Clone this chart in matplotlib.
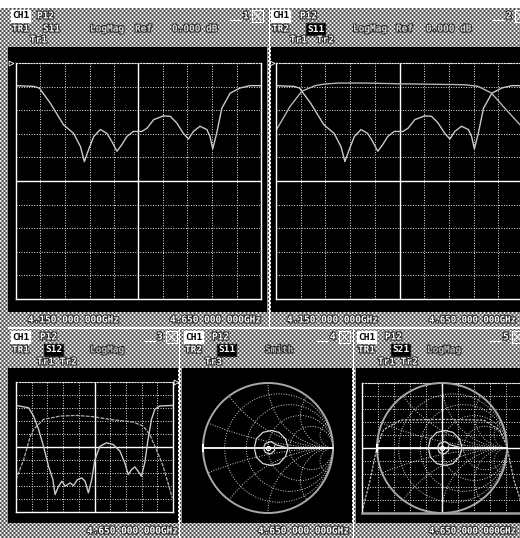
import numpy as np
import matplotlib
matplotlib.use("Agg")
import matplotlib.pyplot as plt
from matplotlib.patches import Circle, Rectangle
import matplotlib.patheffects as pe

W, H = 520, 538

# ---- trace data -------------------------------------------------------
# S11 return loss (GHz, dB), 5 dB/div
s11_ghz = [4.150, 4.186, 4.1975, 4.220, 4.247, 4.2675, 4.2815, 4.2895, 4.298,
           4.3085, 4.322, 4.3355, 4.3455, 4.356, 4.366, 4.376, 4.3895, 4.407,
           4.4175, 4.431, 4.451, 4.465, 4.478, 4.4915, 4.502, 4.512, 4.5255,
           4.5395, 4.546, 4.5515, 4.5595, 4.570, 4.587, 4.607, 4.6275, 4.650]
s11_db = [0.2, 0.05, -0.3, -3.5, -8.1, -9.9, -12.7, -15.9, -13.4, -10.6, -9.1,
          -9.9, -11.6, -13.7, -12.3, -10.6, -9.5, -9.5, -8.8, -7.0, -6.2, -6.3,
          -7.7, -9.9, -11.1, -9.5, -8.4, -9.1, -10.6, -13.2, -9.9, -4.6, -1.4,
          -0.3, 0.2, 0.2]

# S21 transmission (GHz, dB), 5 dB/div
s21_ghz = [4.150, 4.1785, 4.202, 4.229, 4.249, 4.276, 4.330, 4.3975, 4.4645,
           4.532, 4.559, 4.586, 4.613, 4.6435]
s21_db = [-9.3, -4.2, -1.0, 0.2, 0.55, 0.75, 0.75, 0.6, 0.5, 0.4, 0.05, -1.35,
          -4.55, -8.05]

# window 3: S11 / S21 at 10 dB/div
w3_s11_ghz = [4.150, 4.190, 4.206, 4.222, 4.2375, 4.2535, 4.2675, 4.2745,
              4.2855, 4.296, 4.3065, 4.3225, 4.333, 4.3455, 4.3595, 4.370,
              4.3805, 4.391, 4.4015, 4.4175, 4.4385, 4.4595, 4.481, 4.4965,
              4.5075, 4.518, 4.5285, 4.539, 4.5495, 4.560, 4.5705, 4.5815,
              4.592, 4.6075, 4.650]
w3_s11_db = [2.0, 0.2, -6.2, -16.5, -29.4, -44.8, -55.1, -66.6, -60.2, -56.3,
             -60.2, -57.6, -59.7, -55.1, -53.8, -56.3, -65.3, -55.1, -39.6,
             -29.4, -26.8, -28.1, -33.2, -42.2, -51.2, -47.4, -45.3, -48.6,
             -52.5, -42.2, -24.2, -8.8, -1.1, 1.5, 2.0]
w3_s21_ghz = [4.150, 4.1745, 4.1955, 4.206, 4.2375, 4.2905, 4.3435, 4.3965,
              4.449, 4.523, 4.555, 4.576, 4.597, 4.6185, 4.634, 4.648]
w3_s21_db = [-55.1, -39.6, -21.6, -16.5, -8.8, -6.2, -5.7, -6.7, -8.8, -10.8,
             -13.9, -20.4, -31.9, -44.8, -57.6, -69.2]

# window 5: S21 at 10 dB/div
w5_s21_ghz = [4.150, 4.175, 4.197, 4.2175, 4.270, 4.400, 4.530, 4.580, 4.603,
              4.625, 4.645]
w5_s21_db = [-79, -55, -29, -16, -8.5, -8, -8.5, -16, -29, -55, -70]

# S11 on the Smith chart (real, imag of reflection coefficient)
smith_re = [0.31, 0.27, 0.17, 0.05, -0.08, -0.18, -0.21, -0.18, -0.08, 0.05,
            0.17, 0.27, 0.31, 0.12, 0.05, -0.04, -0.07, -0.04, 0.04, 0.10, 0.10]
smith_im = [0.0, 0.14, 0.24, 0.27, 0.24, 0.14, 0.0, -0.14, -0.24, -0.27,
            -0.24, -0.13, 0.0, 0.05, 0.10, 0.07, 0.0, -0.07, -0.09, -0.04, 0.03]

f_start, f_stop = 4.15, 4.65
start_label = "4.150 000 000GHz"
stop_label = "4.650 000 000GHz"

# ---- screen background -------------------------------------------------
fig = plt.figure(figsize=(W / 100, H / 100), dpi=100)
bg = fig.add_axes([0, 0, 1, 1])
bg.set_xlim(0, W)
bg.set_ylim(H, 0)
bg.axis("off")

img = np.ones((H, W, 3))
ii, jj = np.mgrid[0:H, 0:W]
a = ((ii + jj) % 4) < 2
b = ((ii - jj) % 4) < 2
dith = np.where(a & b, 0.95, np.where(a | b, 0.58, 0.30))


def fill(x0, y0, x1, y1, kind):
    if kind == "gray":
        img[y0:y1, x0:x1, :] = dith[y0:y1, x0:x1, None]
    elif kind == "black":
        img[y0:y1, x0:x1, :] = 0.0
    else:
        img[y0:y1, x0:x1, :] = 1.0


fill(0, 8, 8, H, "gray")
for x0, x1 in [(8, 267), (271, W)]:
    fill(x0, 8, x1, 47, "gray")
    fill(x0, 47, x1, 312, "black")
    fill(x0, 312, x1, 327, "gray")
fill(267, 8, 271, 327, "gray")
fill(269, 8, 270, 327, "white")
fill(8, 327, W, 329, "white")
for x0, x1 in [(8, 178), (182, 352), (356, W)]:
    fill(x0, 329, x1, 368, "gray")
    fill(x0, 368, x1, 523, "black")
    fill(x0, 523, x1, H, "gray")
for x0 in (178, 352):
    fill(x0, 329, x0 + 4, H, "gray")
    fill(x0 + 1, 329, x0 + 2, H, "white")
bg.imshow(img, extent=(0, W, H, 0), interpolation="nearest", zorder=0)

FONT = dict(family="DejaVu Sans Mono", fontsize=6.8, fontweight="bold",
            va="center", ha="left")
halo = [pe.withStroke(linewidth=1.6, foreground="#2a2a2a")]


def label(x, y, s, color="white", box=None, size=None):
    kw = dict(FONT)
    if size:
        kw["fontsize"] = size
    if box == "inv":
        bg.text(x, y, s, color="black", **kw,
                bbox=dict(boxstyle="square,pad=0.12", fc="white", ec="white"))
    elif box == "dark":
        bg.text(x, y, s, color="white", **kw,
                bbox=dict(boxstyle="square,pad=0.12", fc="black", ec="#202020"))
    else:
        bg.text(x, y, s, color=color, path_effects=halo, **kw)


def win_number(x, y, n):
    bg.plot([x - 13, x - 2], [y + 4, y + 4], color="white", lw=0.8)
    label(x, y, n)
    bg.add_patch(Rectangle((x + 9, y - 6), 11, 12, fill=False, ec="white", lw=0.8))
    bg.plot([x + 11, x + 18], [y - 4, y + 4], color="white", lw=0.7)
    bg.plot([x + 11, x + 18], [y + 4, y - 4], color="white", lw=0.7)


# window 1
label(12, 16, "CH1", box="inv"); label(37, 16, "P12"); win_number(243, 16, "1")
label(12, 29, "TR1"); label(43, 29, "S11"); label(90, 29, "LogMag", "#d8d8d8")
label(135, 29, "Ref", "#d8d8d8"); label(172, 29, "0.000 dB", "#d8d8d8")
label(30, 40, "Tr1")
label(28, 320, start_label); label(170, 320, stop_label)

# window 2
label(272, 16, "CH1", box="inv"); label(300, 16, "P12"); win_number(506, 16, "2")
label(272, 29, "TR2"); label(307, 29, "S11", box="dark")
label(353, 29, "LogMag", "#d8d8d8"); label(396, 29, "Ref", "#d8d8d8")
label(426, 29, "0.000 dB", "#d8d8d8")
label(290, 40, "Tr1"); label(317, 40, "Tr2")
label(287, 320, start_label); label(429, 320, stop_label, size=6.5)

# window 3
label(12, 337, "CH1", box="inv"); label(40, 337, "P12"); win_number(157, 337, "3")
label(12, 350, "TR1"); label(45, 350, "S12", box="dark")
label(90, 350, "LogMag", "#bdbdbd")
label(37, 362, "Tr1 Tr2")
label(87, 531, stop_label)

# window 4
label(185, 337, "CH1", box="inv"); label(212, 337, "P12"); win_number(330, 337, "4")
label(185, 350, "TR2"); label(218, 350, "S11", box="dark")
label(265, 350, "Smith", "#bdbdbd")
label(205, 362, "Tr3")
label(258, 531, stop_label)

# window 5
label(358, 337, "CH1", box="inv"); label(385, 337, "P12"); win_number(503, 337, "5")
label(358, 350, "TR1"); label(392, 350, "S21", box="dark")
label(427, 350, "LogMag", "#bdbdbd")
label(378, 362, "Tr1 Tr2")
label(429, 531, stop_label, size=6.5)


# ---- plot areas --------------------------------------------------------
def px_axes(x0, y0, x1, y1):
    ax = fig.add_axes([x0 / W, 1 - y1 / H, (x1 - x0) / W, (y1 - y0) / H])
    ax.patch.set_alpha(0)
    return ax


GRID = dict(color="#e6e6e6", lw=0.7, ls=(0, (1, 1.6)))


def rect_grid(ax, ytop, ybot):
    ax.set_xlim(f_start, f_stop)
    ax.set_ylim(ybot, ytop)
    ax.set_xticks(np.linspace(f_start, f_stop, 11))
    ax.set_yticks(np.linspace(ybot, ytop, 11))
    ax.tick_params(length=0, labelbottom=False, labelleft=False)
    ax.grid(True, **GRID)
    ax.axvline((f_start + f_stop) / 2, color="white", lw=1.0)
    ax.axhline((ytop + ybot) / 2, color="white", lw=1.0)
    for side in ("left", "right", "bottom"):
        ax.spines[side].set_color("white")
        ax.spines[side].set_linewidth(1.0)
    ax.spines["top"].set_color("#e6e6e6")
    ax.spines["top"].set_linestyle((0, (1, 1.6)))
    ax.spines["top"].set_linewidth(0.8)


def ref_marker(x, y):
    bg.plot([x], [y], marker=">", ms=3.5, mfc="none", mec="white", mew=0.6)


TRACE = dict(color="#c9c9c9", lw=1.0)

ax1 = px_axes(16, 63, 261, 299)
rect_grid(ax1, 5, -45)
ax1.plot(s11_ghz, s11_db, **TRACE)
ref_marker(11, 63)

ax2 = px_axes(276, 63, 523, 299)
rect_grid(ax2, 5, -45)
ax2.plot(s11_ghz, s11_db, **TRACE)
ax2.plot(s21_ghz, s21_db, color="#b5b5b5", lw=1.0)
ref_marker(272, 63)

ax3 = px_axes(16, 382, 173, 512)
rect_grid(ax3, 20, -80)
ax3.plot(w3_s21_ghz, w3_s21_db, color="#b0b0b0", lw=0.9, ls=(0, (3, 1)))
ax3.plot(w3_s11_ghz, w3_s11_db, **TRACE)
ref_marker(176, 382)


def smith(ax):
    ax.set_xlim(-1.1, 1.1)
    ax.set_ylim(-1.1, 1.1)
    ax.axis("off")
    outer = Circle((0, 0), 1, fill=False, ec="#a8a8a8", lw=1.4, zorder=3)
    ax.add_patch(outer)
    sty = dict(fill=False, ec="#d0d0d0", lw=0.7, ls=(0, (1, 1.6)))
    for r in (0.2, 0.5, 1.0, 2.0):
        ax.add_patch(Circle((r / (1 + r), 0), 1 / (1 + r), **sty))
    for xv in (0.2, 0.5, 1.0, 2.0, 5.0):
        for sgn in (1, -1):
            c = Circle((1, sgn / xv), 1 / xv, **sty)
            ax.add_patch(c)
            c.set_clip_path(outer)
    ax.plot([-1, 1], [0, 0], color="white", lw=1.3, zorder=4)
    ax.plot([-1, -1], [-0.04, 0.04], color="white", lw=1.5, zorder=4)
    ax.plot(smith_re, smith_im, color="#d8d8d8", lw=0.9, zorder=5)
    ax.plot([0], [0], marker="o", ms=3, mfc="none", mec="white", mew=0.8, zorder=6)


ax4 = px_axes(268 - 71.5, 448 - 71.5, 268 + 71.5, 448 + 71.5)
smith(ax4)

ax5g = px_axes(362, 383, 522, 513)
rect_grid(ax5g, 20, -80)
ax5g.spines["bottom"].set_color("#a0a0a0")
ax5g.spines["bottom"].set_linewidth(1.8)
ax5g.plot(w5_s21_ghz, w5_s21_db, color="#c0c0c0", lw=0.9, ls=(0, (2, 1)))
ax5 = px_axes(442 - 71.5, 448 - 71.5, 442 + 71.5, 448 + 71.5)
smith(ax5)

fig.savefig("out.png", dpi=100)
